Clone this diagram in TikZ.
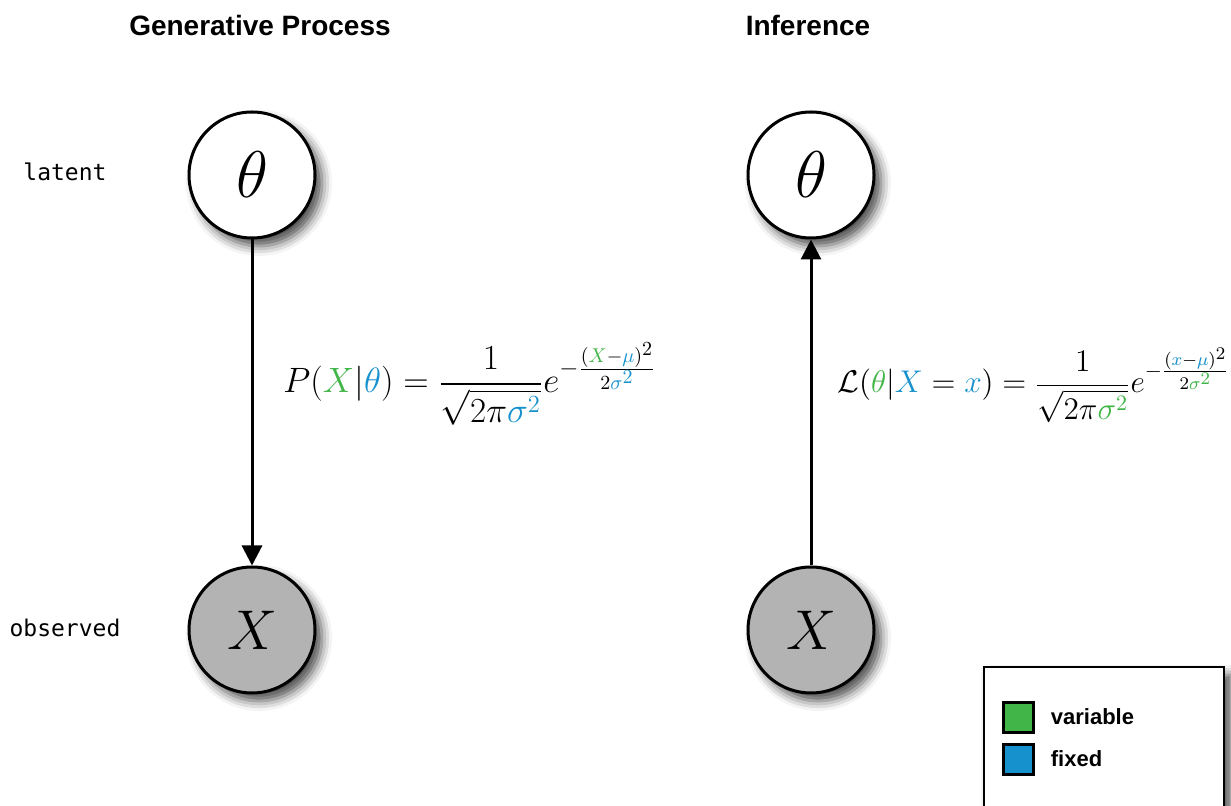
\RequirePackage{fix-cm}
\documentclass[tikz,border=0pt]{standalone}
\usepackage{amsmath,amssymb}
\usepackage{fontspec}
\setsansfont{Liberation Sans}
\setmonofont{DejaVu Sans Mono}
\usepackage{tikz}
\usetikzlibrary{positioning,arrows.meta,shadows.blur}
\DeclareMathSizes{17.6}{17.6}{12.3}{10}
\DeclareMathSizes{15.7}{15.7}{11}{8.9}
\definecolor{vargreen}{HTML}{41B547}
\definecolor{fixblue}{HTML}{1691CD}
\definecolor{obsgray}{HTML}{B3B3B3}
\newcommand{\vr}[1]{\textcolor{vargreen}{#1}}
\newcommand{\fx}[1]{\textcolor{fixblue}{#1}}
\tikzset{
  softshadow/.style={blur shadow={shadow xshift=3.5pt,shadow yshift=-4pt,
    shadow blur radius=5pt,shadow opacity=70}},
  latnode/.style={circle,draw=black,line width=1.5pt,fill=white,
    minimum size=63pt,inner sep=0pt,font=\fontsize{33}{33}\selectfont,softshadow},
  obsnode/.style={latnode,fill=obsgray,font=\fontsize{28}{28}\selectfont},
  flow/.style={-{Triangle[length=10pt,width=10pt]},line width=1.5pt},
  ttl/.style={font=\sffamily\bfseries\fontsize{14}{17}\selectfont,inner sep=0pt},
  rowlbl/.style={font=\ttfamily\fontsize{11.5}{14}\selectfont,inner sep=0pt},
  eqn/.style={anchor=base west,inner sep=0pt},
  legbox/.style={draw=black,line width=1pt,fill=white,softshadow},
  legkey/.style={draw=black,line width=1.5pt,minimum size=15pt,inner sep=0pt},
  legtxt/.style={font=\sffamily\bfseries\fontsize{11}{13}\selectfont,inner sep=0pt},
}
\begin{document}
\begin{tikzpicture}[x=0.5pt,y=-0.5pt]
  \useasboundingbox (0,0) rectangle (1231,806);
  % titles and row labels
  \node[ttl] (ttlG) at (260,25) {Generative Process};
  \node[ttl] (ttlI) at (808,25) {Inference};
  \node[rowlbl] (lat) at (65,172) {latent};
  \node[rowlbl] (obs) at (65,628) {observed};
  % graphs
  \node[latnode] (thG) at (252,175) {$\theta$};
  \node[obsnode,below=163pt of thG] (xG) {$X$};
  \node[latnode,right=215pt of thG] (thI) {$\theta$};
  \node[obsnode,below=163pt of thI] (xI) {$X$};
  \draw[flow] (thG) -- (xG);
  \draw[flow] (xI) -- (thI);
  % formulas
  \node[eqn,font=\fontsize{17.6}{21}\selectfont] (eqG) at (283,393)
    {$\displaystyle P(\vr{X}|\fx{\theta})=\frac{1}{\sqrt{2\pi\fx{\sigma^2}}}
      e^{-\frac{(\vr{X}-\fx{\mu})^2}{2\fx{\sigma^2}}}$};
  \node[eqn,font=\fontsize{15.7}{19}\selectfont] (eqI) at (837,393)
    {$\displaystyle \mathcal{L}(\vr{\theta}|\fx{X}=\fx{x})=\frac{1}{\sqrt{2\pi\vr{\sigma^2}}}
      e^{-\frac{(\fx{x}-\fx{\mu})^2}{2\vr{\sigma^2}}}$};
  % legend
  \node[legbox,anchor=north west,minimum width=120pt,minimum height=85pt] (leg) at (983,666) {};
  \node[legkey,fill=vargreen] (kvar) at (1018,717) {};
  \node[legkey,fill=fixblue] (kfix) at (1018,759) {};
  \node[legtxt,right=8pt of kvar] (tvar) {variable};
  \node[legtxt,right=8pt of kfix] (tfix) {fixed};
\end{tikzpicture}
\end{document}
